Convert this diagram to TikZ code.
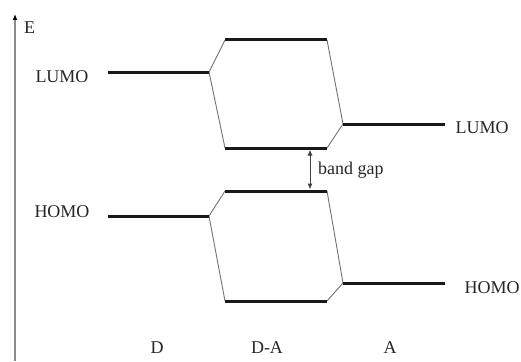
\documentclass[tikz,border=0pt]{standalone}
\usepackage{fontspec}
\setmainfont{Liberation Serif}
\usetikzlibrary{arrows.meta}
\begin{document}
\begin{tikzpicture}[x=1pt,y=-1pt,
  level/.style={line width=3pt,black!90},
  link/.style={line width=0.9pt,black!55},
  lbl/.style={font=\fontsize{18}{18}\selectfont,inner sep=0pt,text=black!85},
  gaparrow/.style={line width=1pt,black!75,{Latex[length=6pt,width=5pt]}-{Latex[length=6pt,width=5pt]}}]
\useasboundingbox (0,0) rectangle (521,361);
% energy axis
\coordinate (ax0) at (15,361);
\coordinate (ax1) at (15,14);
\draw[line width=1.5pt,black!45,-{Latex[length=6pt,width=5pt,black]}] (ax0) -- (ax1);
\node[lbl,anchor=west] (E) at (24,28) {E};
% donor levels
\coordinate (dL0) at (108,72);  \coordinate (dL1) at (209,72);
\coordinate (dH0) at (108,216); \coordinate (dH1) at (209,216);
% donor-acceptor levels
\coordinate (daL0) at (225,40);  \coordinate (daL1) at (327,40);
\coordinate (daL2) at (225,148); \coordinate (daL3) at (327,148);
\coordinate (daH0) at (225,191); \coordinate (daH1) at (327,191);
\coordinate (daH2) at (225,301); \coordinate (daH3) at (327,301);
% acceptor levels
\coordinate (aL0) at (343,124); \coordinate (aL1) at (445,124);
\coordinate (aH0) at (343,283); \coordinate (aH1) at (445,283);
% correlation lines
\draw[link] (dL1) -- (daL0) (dL1) -- (daL2);
\draw[link] (daL1) -- (aL0) (daL3) -- (aL0);
\draw[link] (dH1) -- (daH0) (dH1) -- (daH2);
\draw[link] (daH1) -- (aH0) (daH3) -- (aH0);
% orbital levels
\draw[level] (dL0) -- (dL1);
\draw[level] (dH0) -- (dH1);
\draw[level] (daL0) -- (daL1);
\draw[level] (daL2) -- (daL3);
\draw[level] (daH0) -- (daH1);
\draw[level] (daH2) -- (daH3);
\draw[level] (aL0) -- (aL1);
\draw[level] (aH0) -- (aH1);
% band gap
\coordinate (g0) at (310,149.5);
\coordinate (g1) at (310,189.5);
\draw[gaparrow] (g0) -- (g1);
\node[lbl,anchor=west] (gap) at (318,170) {band gap};
% labels
\node[lbl] (lumoD) at (62,77) {LUMO};
\node[lbl] (homoD) at (62,212) {HOMO};
\node[lbl] (lumoA) at (482,128) {LUMO};
\node[lbl] (homoA) at (492,288) {HOMO};
\node[lbl] (D) at (157,348) {D};
\node[lbl] (DA) at (267,348) {D-A};
\node[lbl] (A) at (390,348) {A};
\end{tikzpicture}
\end{document}
